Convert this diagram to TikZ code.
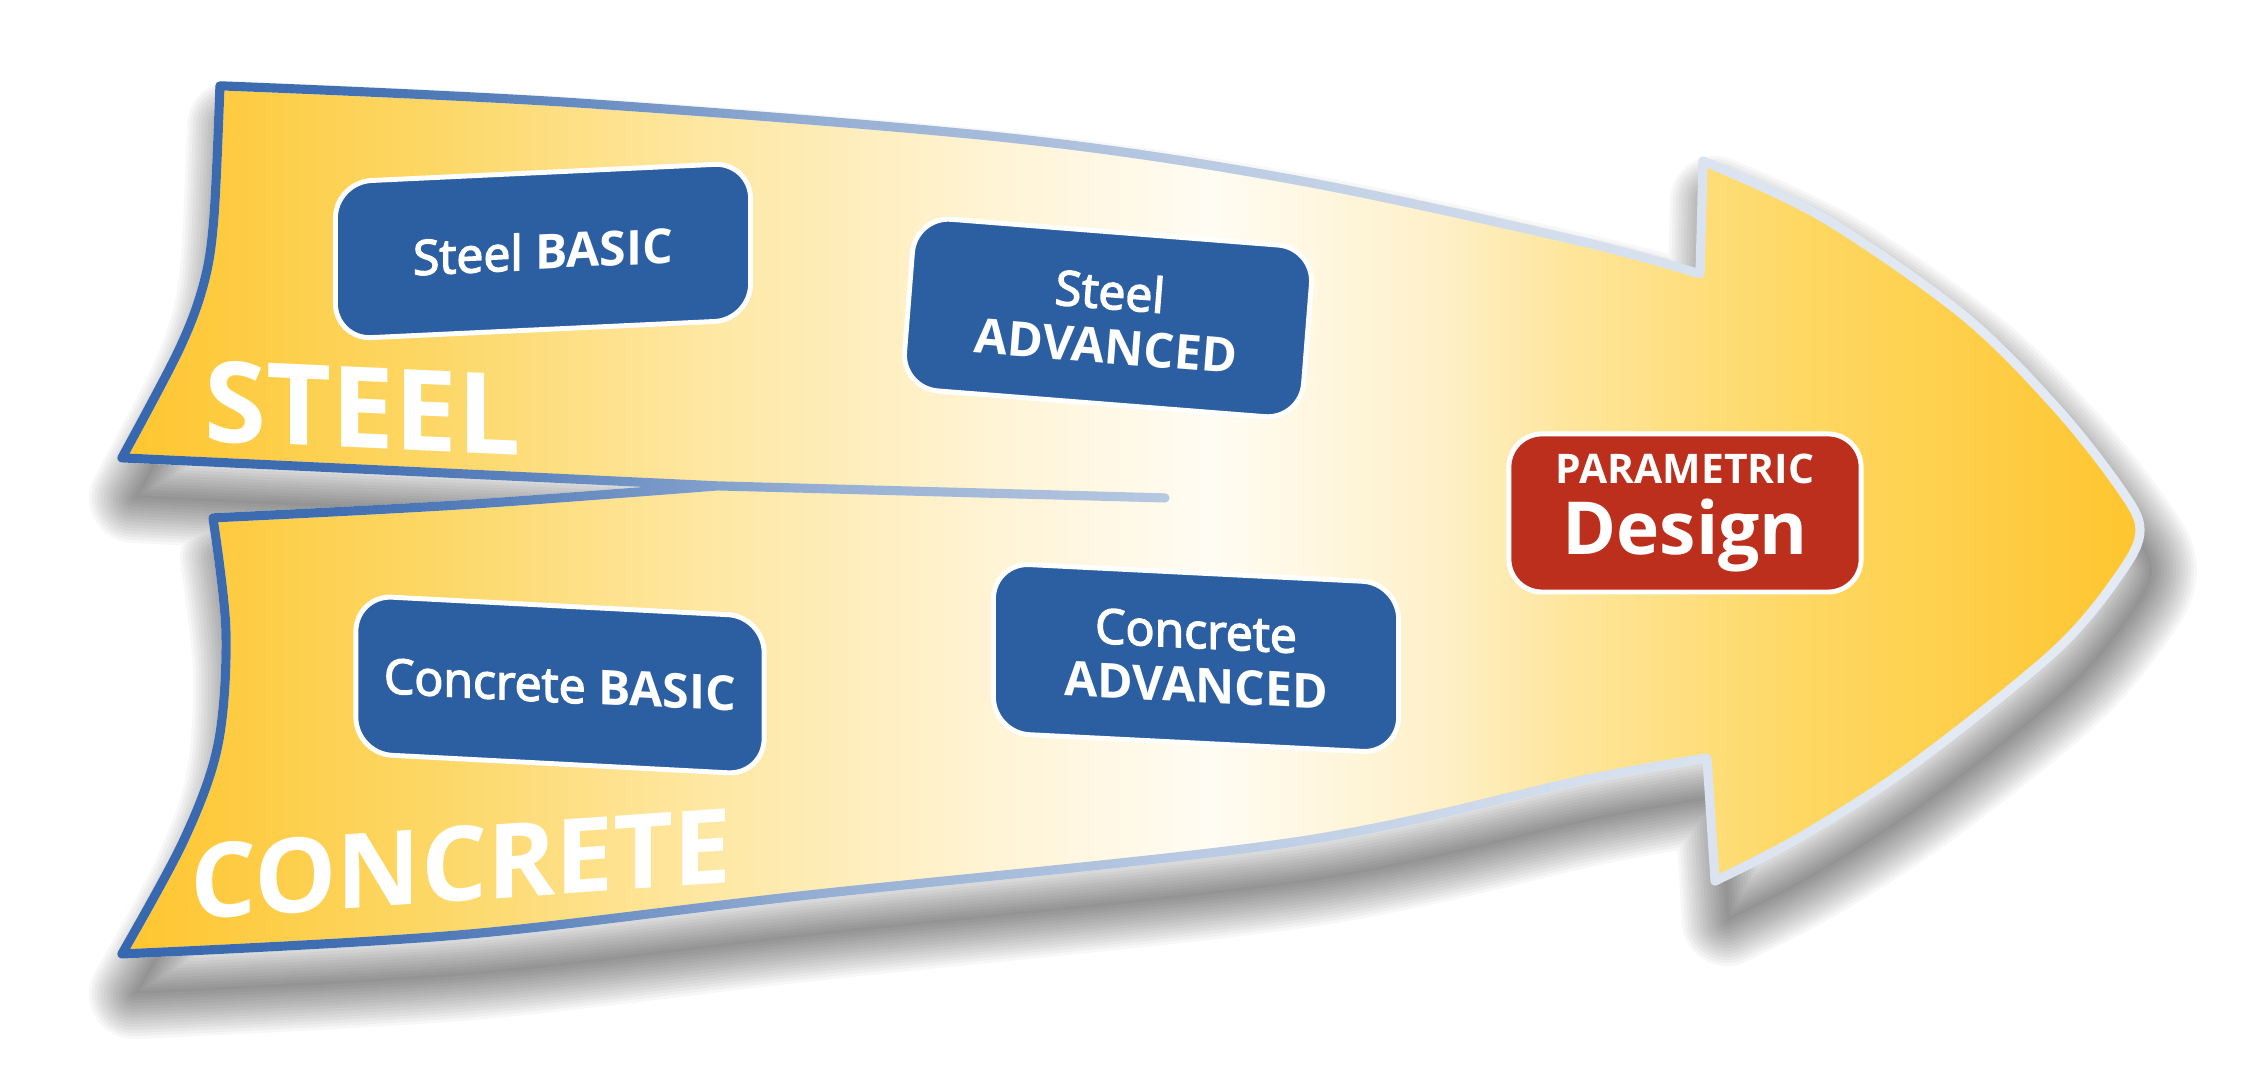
\documentclass[tikz,border=0pt]{standalone}
\usepackage{fontspec}
\setmainfont{Open Sans}
\newfontfamily\semifont{Open Sans}[FakeBold=3]
\usepackage{tikz}
\usetikzlibrary{fadings,positioning}
\usepackage{xcolor}

\definecolor{bandyellow}{HTML}{FEC52E}
\definecolor{bandA}{HTML}{FDD765}
\definecolor{bandB}{HTML}{FEE8A5}
\definecolor{bandC}{HTML}{FFF4D6}
\definecolor{bandD}{HTML}{FFFCF3}
\definecolor{bandE}{HTML}{FEF0C8}
\definecolor{bandF}{HTML}{FEE59A}
\definecolor{bandG}{HTML}{FED863}
\definecolor{edgeblue}{HTML}{3767AE}
\definecolor{edgelight}{HTML}{E3EAF3}
\definecolor{boxblue}{HTML}{2C5EA2}
\definecolor{boxred}{HTML}{BD2F1D}

\pgfdeclarehorizontalshading{bandshade}{100bp}{color(0bp)=(bandyellow); color(25bp)=(bandyellow);
  color(32.6bp)=(bandA); color(39.8bp)=(bandB); color(46.8bp)=(bandC); color(52bp)=(bandD);
  color(57.7bp)=(bandE); color(61bp)=(bandF); color(66.6bp)=(bandG); color(75bp)=(bandyellow);
  color(100bp)=(bandyellow)}
\pgfdeclarehorizontalshading{edgeshade}{100bp}{color(0bp)=(pgftransparent!0); color(25bp)=(pgftransparent!0);
  color(30bp)=(pgftransparent!5); color(34.5bp)=(pgftransparent!20); color(42bp)=(pgftransparent!54);
  color(51bp)=(pgftransparent!75); color(61bp)=(pgftransparent!92); color(70bp)=(pgftransparent!100);
  color(100bp)=(pgftransparent!100)}
\pgfdeclarefading{edgefade}{\pgfuseshading{edgeshade}}

\newcommand\softword[1]{{\semifont\mdseries #1}}
\newcommand\bandpath{(220,86)
  -- plot[smooth, tension=0.55] coordinates {(220,86) (576,103) (1008,138) (1295,180) (1583,242) (1700,274)}
  -- (1703,161)
  -- plot[smooth, tension=0.55] coordinates {(1703,161) (1822,217) (1962,314) (2055,406) (2120,488) (2140,530) (2120,574) (2055,651) (1915,763) (1804,835) (1715,881)}
  -- (1707,758)
  -- plot[smooth, tension=0.55] coordinates {(1707,758) (1583,780) (1295,842) (800,896) (459,935) (122,954)}
  -- plot[smooth, tension=0.55] coordinates {(122,954) (184,840) (218,745) (226,632) (213,518)}
  -- plot[smooth, tension=0.55] coordinates {(213,518) (460,505) (718,486)}
  -- plot[smooth, tension=0.55] coordinates {(718,486) (400,471) (122,458)}
  -- plot[smooth, tension=0.55] coordinates {(122,458) (179,350) (204,283) (214,217) (220,86)}
  -- cycle}

\tikzset{
  topic/.style={draw=white, line width=1.4pt, fill=boxblue, text=white, rounded corners=3.6mm,
    align=center, inner sep=0pt, font=\bfseries\fontsize{13.7}{15.5}\selectfont},
  goal/.style={topic, fill=boxred, rounded corners=3.3mm, font=\bfseries\fontsize{20.8}{20.4}\selectfont},
  bandlabel/.style={text=white, inner sep=0pt, font=\bfseries\fontsize{32}{32}\selectfont},
  bandedge/.style={line width=2.6pt, line join=round, line cap=round},
  shadowlayer/.style={black, opacity=0.03, line join=round},
}

\begin{document}
\begin{tikzpicture}[x=0.01cm,y=-0.01cm]
\fill[white] (0,0) rectangle (2257,1074);
\useasboundingbox (0,0) rectangle (2257,1074);
% Drawing shadow
\begin{scope}[shift={(12,40)}]
\foreach \w in {0.6,1.2,...,9.0}
  \draw[shadowlayer, line width=\w mm] \bandpath;
\fill[shadowlayer] \bandpath;
\end{scope}
% Drawing the band
\shade[shading=bandshade] \bandpath;
\draw[bandedge, edgelight] \bandpath (718,486) -- (1165,498);
\draw[bandedge, edgeblue, path fading=edgefade] \bandpath (718,486) -- (1165,498);
% Done with band; drawing labels
\node[bandlabel, yslant=-0.045] (steellabel) at (363,408) {STEEL};
\node[bandlabel, font=\bfseries\fontsize{29.5}{30}\selectfont, yslant=0.069] (conclabel) at (461,864) {CONCRETE};
% Drawing boxes
\node[topic, minimum width=4.15cm, minimum height=1.57cm, yslant=0.047] (steelbasic) at (543,251) {\softword{Steel} BASIC};
\node[topic, minimum width=4.0cm, minimum height=1.72cm, rotate=-4.5] (steeladv) at (1108,318) {\softword{Steel}\\ADVANCED};
\node[topic, minimum width=4.08cm, minimum height=1.58cm, yslant=-0.052] (concbasic) at (560,685) {\softword{Concrete} BASIC};
\node[topic, minimum width=4.05cm, minimum height=1.70cm, yslant=-0.05] (concadv) at (1196,658) {\softword{Concrete}\\ADVANCED};
\node[goal, minimum width=3.52cm, minimum height=1.58cm] (parametric) at (1685,513) {{\fontsize{11.6}{12}\selectfont PARAMETRIC}\\Design};
% Done with boxes
\end{tikzpicture}
\end{document}
